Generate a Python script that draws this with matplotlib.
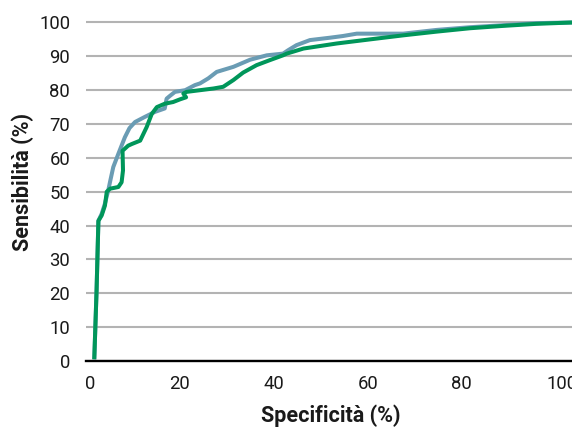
import matplotlib
matplotlib.use("Agg")
import matplotlib.pyplot as plt
from matplotlib.transforms import ScaledTranslation

# Specificity (x) and sensitivity (y)
spec_blue = [1.74, 2.23, 2.62, 3.32, 4.01, 4.70, 5.19, 5.79, 6.87, 8.26, 9.24, 10.43, 12.50, 14.68, 16.75,
             17.15, 17.84, 18.93, 21.10, 23.18, 24.26, 26.04, 27.82, 31.38, 34.93, 38.49, 41.95,
             43.03, 44.81, 47.68, 51.93, 54.69, 57.66, 67.54, 74.65, 81.76, 88.88, 95.89, 103.5]
sens_blue = [0.5, 20.8, 41.4, 43.5, 46.5, 50.3, 53.5, 57.3, 61.2, 66.1, 68.8, 70.6, 72.1, 73.6, 74.6,
             77.5, 78.3, 79.5, 80.0, 81.5, 82.0, 83.5, 85.4, 86.9, 89.0, 90.3, 90.8,
             91.8, 93.3, 94.8, 95.5, 96.0, 96.7, 96.7, 97.8, 98.6, 99.2, 99.8, 100.0]

spec_green = [1.74, 2.23, 2.62, 3.32, 4.01, 4.40, 5.10, 6.87, 7.56, 7.86, 7.76, 8.95, 9.74, 11.52, 12.90,
              13.99, 15.07, 16.75, 18.53, 20.01, 21.30, 20.71, 21.40, 24.26, 27.13, 29.20, 31.38,
              33.45, 36.32, 39.18, 41.95, 42.74, 46.29, 53.41, 60.42, 67.54, 74.65, 81.76, 88.88, 95.89, 103.5]
sens_green = [0.5, 20.8, 41.4, 43.0, 45.9, 50.0, 50.9, 51.4, 52.8, 56.3, 62.1, 63.6, 64.1, 65.1, 69.1,
              73.0, 75.0, 76.0, 76.5, 77.3, 77.9, 79.0, 79.5, 80.0, 80.5, 81.0, 83.0,
              85.2, 87.4, 88.9, 90.3, 90.8, 92.3, 93.8, 95.0, 96.2, 97.3, 98.3, 99.0, 99.6, 100.0]

xticks = [0, 20, 40, 60, 80, 100]
yticks = [0, 10, 20, 30, 40, 50, 60, 70, 80, 90, 100]
xlabel = "Specificità (%)"
ylabel = "Sensibilità (%)"

plt.rcParams['font.family'] = ['Roboto', 'DejaVu Sans']

W, H = 572, 428
fig = plt.figure(figsize=(W / 100, H / 100), dpi=100)
x0, x1 = 86.1, 572
ymin_px, ymax_px = 361.0, 19.1
ax = fig.add_axes([x0 / W, (H - ymin_px) / H, (x1 - x0) / W, (ymin_px - ymax_px) / H])

ax.set_xlim(0, 103.5)
ax.set_ylim(0, 101)

ax.plot(spec_blue, sens_blue, color="#6a9cb4", lw=2.9, solid_joinstyle="round",
        solid_capstyle="butt", zorder=3)
ax.plot(spec_green, sens_green, color="#00965a", lw=2.9, solid_joinstyle="round",
        solid_capstyle="butt", zorder=4)

ax.set_xticks(xticks)
ax.set_yticks(yticks)
ax.set_xticklabels([str(v) for v in xticks])
ax.set_yticklabels([str(v) for v in yticks])
ax.tick_params(axis="both", length=0, labelsize=13.3, colors="#1a1a1a")
ax.tick_params(axis="y", pad=11.5)
ax.tick_params(axis="x", pad=10)

xl = ax.get_xticklabels()
xl[0].set_transform(xl[0].get_transform() + ScaledTranslation(4.5 / 100, 0, fig.dpi_scale_trans))
xl[-1].set_transform(xl[-1].get_transform() + ScaledTranslation(6 / 100, 0, fig.dpi_scale_trans))

ax.yaxis.grid(True, color="#b3b3b3", lw=1.5, zorder=0)
ax.xaxis.grid(False)
for s in ["top", "right", "left"]:
    ax.spines[s].set_visible(False)
ax.spines["bottom"].set_color("black")
ax.spines["bottom"].set_linewidth(1.7)
ax.spines["bottom"].set_zorder(5)

lab_font = ['Roboto', 'DejaVu Sans']
fig.text(330.8 / W, 1 - 416 / H, xlabel, ha="center", va="center", family=lab_font,
         fontsize=15.5, fontweight="bold", color="#1a1a1a")
fig.text(23 / W, 1 - 182 / H, ylabel, ha="center", va="center", rotation=90, family=lab_font,
         fontsize=15.5, fontweight="bold", color="#1a1a1a")

fig.savefig("out.png", dpi=100)
